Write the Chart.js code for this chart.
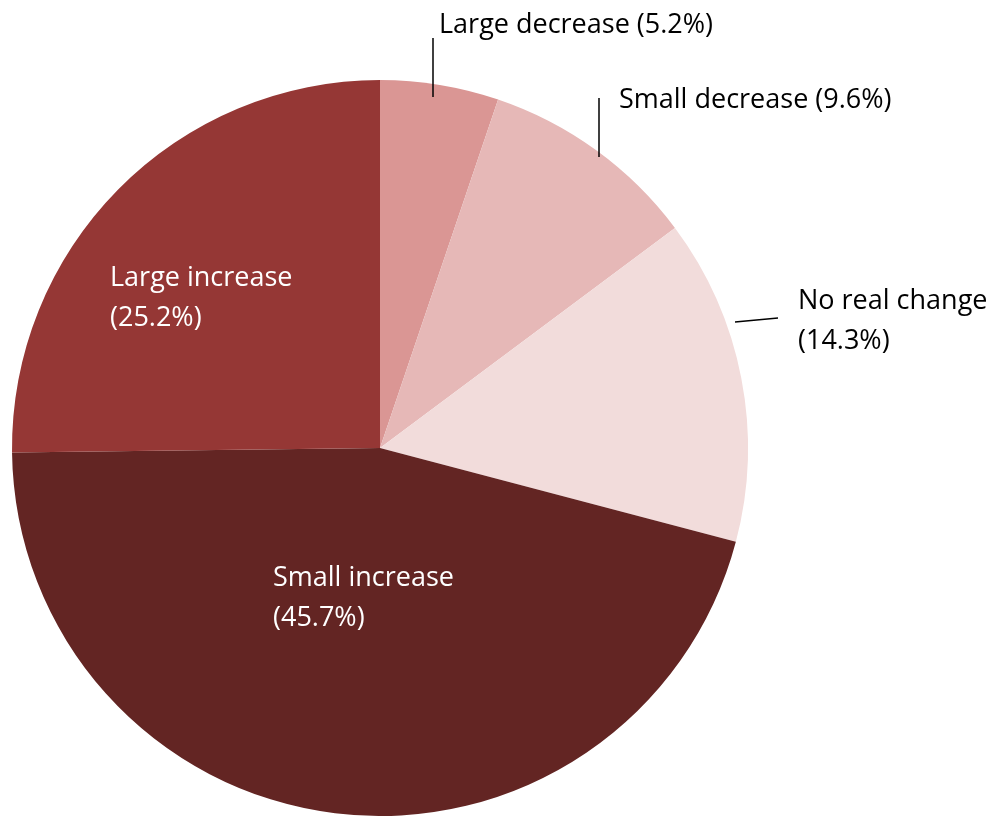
<!DOCTYPE html>
<html>
<head>
<meta charset="utf-8">
<script src="https://cdn.jsdelivr.net/npm/chart.js@4.4.1/dist/chart.umd.min.js"></script>
<style>
  html, body { margin: 0; padding: 0; background: #ffffff; }
  #wrap { width: 1000px; height: 816px; position: relative; }
</style>
</head>
<body>
<div id="wrap"><canvas id="pieChart" width="1000" height="816"></canvas></div>
<script>
// Categories and shares, clockwise from 12 o'clock
const categories = ['Large decrease', 'Small decrease', 'No real change', 'Small increase', 'Large increase'];
const shares = [5.2, 9.6, 14.3, 45.7, 25.2];
const sliceColors = ['#DA9694', '#E6B8B7', '#F2DCDB', '#632523', '#953735'];

// Where each label sits and how it is split / coloured
const labelLayout = [
    { x: 439, y: 25, lines: 1, color: '#000000', leader: [[433, 97], [433, 38]] },
    { x: 619, y: 100, lines: 1, color: '#000000', leader: [[599, 157], [599, 98]] },
    { x: 798, y: 301, lines: 2, color: '#000000', leader: [[735, 322], [778, 318]] },
    { x: 273, y: 578, lines: 2, color: '#ffffff' },
    { x: 110, y: 278, lines: 2, color: '#ffffff' }
];

const FONT = '27px "Open Sans", Lato, sans-serif';

// Plugin that writes the category labels and leader lines
const sliceLabels = {
    id: 'sliceLabels',
    afterDatasetsDraw(chart) {
        const c = chart.ctx;
        c.save();
        c.font = FONT;
        c.textBaseline = 'middle';
        c.textAlign = 'left';
        labelLayout.forEach((lay, i) => {
            const pct = '(' + shares[i].toFixed(1) + '%)';
            if (lay.leader) {
                c.strokeStyle = '#000000';
                c.lineWidth = 1.5;
                c.beginPath();
                c.moveTo(lay.leader[0][0], lay.leader[0][1]);
                c.lineTo(lay.leader[1][0], lay.leader[1][1]);
                c.stroke();
            }
            c.fillStyle = lay.color;
            if (lay.lines === 1) {
                c.fillText(categories[i] + ' ' + pct, lay.x, lay.y);
            } else {
                c.fillText(categories[i], lay.x, lay.y);
                c.fillText(pct, lay.x, lay.y + 40);
            }
        });
        c.restore();
    }
};

const ctx = document.getElementById('pieChart').getContext('2d');
new Chart(ctx, {
    type: 'pie',
    data: {
        labels: categories,
        datasets: [{
            data: shares,
            backgroundColor: sliceColors,
            borderWidth: 0
        }]
    },
    options: {
        responsive: false,
        animation: false,
        layout: {
            padding: { left: 10, right: 250, top: 80, bottom: 0 }
        },
        plugins: {
            legend: { display: false },
            tooltip: { enabled: false }
        }
    },
    plugins: [sliceLabels]
});
</script>
</body>
</html>
